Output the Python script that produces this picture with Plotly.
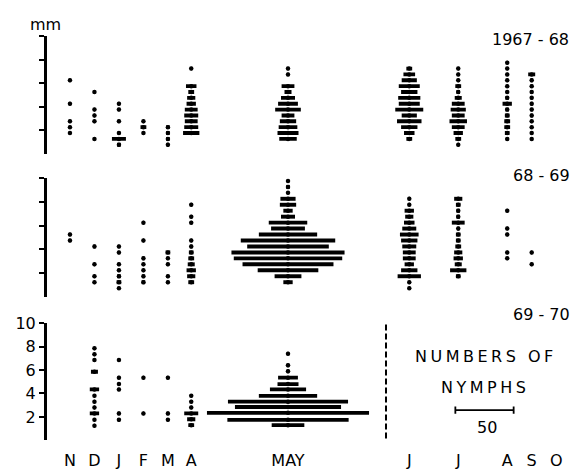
import plotly.graph_objects as go

W, H = 584, 470
PX_PER_NYMPH = 58.3 / 50.0   # scale bar: 50 nymphs

months = ["N", "D", "J", "F", "M", "A", "MAY", "J", "J", "A", "S", "O"]
month_pos = [60, 81, 102, 123, 144, 164, 247, 351, 393, 435, 456, 477]  # in nymph units
season_labels = ["1967 - 68", "68 - 69", "69 - 70"]
y_ticks = [2, 4, 6, 8, 10]
y_ticktext = ["2", "4", "6", "8", "10"]

# column index -> (size class in mm, number of nymphs)
s1967 = {
    0: ([6.25, 4.25, 2.75, 2.25, 1.75], [1, 1, 1, 1, 1]),
    1: ([5.25, 3.75, 3.25, 2.75, 1.25], [1, 1, 1, 1, 1]),
    2: ([4.25, 3.75, 2.75, 1.75, 1.25, 0.75], [1, 1, 1, 2, 12, 3]),
    3: ([2.75, 2.25, 1.75], [1, 5, 1]),
    4: ([2.25, 1.75, 1.25, 0.75], [3, 3, 3, 2]),
    5: ([7.25, 5.75, 5.25, 4.75, 4.25, 3.75, 3.25, 2.75, 2.25, 1.75],
        [1, 9, 5, 7, 8, 11, 12, 11, 12, 14]),
    6: ([7.25, 6.75, 5.75, 5.25, 4.75, 4.25, 3.75, 3.25, 2.75, 2.25, 1.75, 1.25],
        [1, 1, 11, 6, 12, 17, 22, 11, 14, 16, 18, 15]),
    7: ([7.25, 6.75, 6.25, 5.75, 5.25, 4.75, 4.25, 3.75, 3.25, 2.75, 2.25, 1.75, 1.25],
        [5, 10, 13, 18, 14, 19, 18, 24, 13, 21, 14, 9, 5]),
    8: ([7.25, 6.75, 6.25, 5.75, 5.25, 4.75, 4.25, 3.75, 3.25, 2.75, 2.25, 1.75, 1.25, 0.75],
        [1, 1, 1, 5, 3, 6, 11, 13, 11, 15, 11, 8, 5, 1]),
    9: ([7.75, 7.25, 6.75, 6.25, 5.75, 5.25, 4.75, 4.25, 3.75, 3.25, 2.75, 2.25, 1.75, 1.25],
        [1, 1, 1, 1, 1, 1, 3, 8, 3, 4, 5, 5, 4, 2]),
    10: ([6.75, 6.25, 5.75, 5.25, 4.75, 4.25, 3.75, 3.25, 2.75, 2.25, 1.75, 1.25],
         [6, 2, 2, 2, 2, 2, 2, 2, 1, 1, 1, 1]),
}

s1968 = {
    0: ([5.25, 4.75], [1, 1]),
    1: ([4.25, 2.75, 1.75, 1.25], [2, 1, 1, 1]),
    2: ([4.25, 3.75, 2.75, 2.25, 1.75, 1.25, 0.75], [1, 1, 1, 1, 3, 4, 1]),
    3: ([6.25, 4.75, 3.25, 2.75, 2.25, 1.75, 1.25], [1, 1, 2, 1, 1, 2, 3]),
    4: ([3.75, 3.25, 2.75, 1.75, 1.25], [4, 1, 1, 1, 1]),
    5: ([7.75, 6.75, 6.25, 4.75, 4.25, 3.75, 3.25, 2.75, 2.25, 1.75, 1.25],
        [1, 1, 1, 1, 2, 4, 5, 6, 8, 7, 5]),
    6: ([9.75, 9.25, 8.75, 8.25, 7.75, 7.25, 6.75, 6.25, 5.75, 5.25, 4.75, 4.25,
         3.75, 3.25, 2.75, 2.25, 1.75, 1.25],
        [1, 3, 1, 13, 14, 8, 12, 33, 29, 50, 81, 70, 97, 93, 78, 52, 23, 8]),
    7: ([8.25, 7.75, 7.25, 6.75, 6.25, 5.75, 5.25, 4.75, 4.25, 3.75, 3.25, 2.75, 2.25, 1.75, 1.25, 0.75],
        [1, 1, 8, 7, 9, 12, 16, 14, 12, 11, 11, 8, 14, 20, 1, 1]),
    8: ([8.25, 7.75, 7.25, 6.75, 6.25, 5.75, 5.25, 4.75, 4.25, 3.75, 3.25, 2.75, 2.25, 1.75],
        [7, 4, 3, 3, 11, 2, 4, 4, 5, 7, 8, 6, 14, 4]),
    9: ([7.25, 5.75, 5.25, 3.75, 3.25], [1, 1, 1, 1, 1]),
    10: ([3.75, 2.75], [1, 1]),
}

s1969 = {
    1: ([7.85, 7.35, 6.85, 5.85, 4.35, 3.8, 3.3, 2.8, 2.3, 1.75, 1.25],
        [1, 1, 1, 6, 8, 1, 1, 1, 8, 1, 1]),
    2: ([6.85, 5.35, 4.8, 4.35, 2.3, 1.75], [1, 1, 1, 1, 2, 2]),
    3: ([5.35, 2.3], [1, 1]),
    4: ([5.35, 2.3, 1.75], [1, 2, 1]),
    5: ([3.8, 3.3, 2.8, 2.3, 1.8, 1.3], [1, 1, 1, 12, 7, 5]),
    6: ([7.4, 6.4, 5.9, 5.35, 4.8, 4.35, 3.8, 3.3, 2.85, 2.35, 1.75, 1.3],
        [1, 2, 2, 17, 18, 31, 50, 103, 91, 139, 104, 28]),
}

seasons = [s1967, s1968, s1969]
FONT = "DejaVu Sans"


def px_x(px):
    return px / W


def px_y(py):
    return 1 - py / H


# vertical pixel spans (0 mm, 10 mm) for each panel
panel_px = [(148, 28), (295, 173), (441.7, 321.7)]
yaxis_names = ["y", "y2", "y3"]

fig = go.Figure()
for season, yname in zip(seasons, yaxis_names):
    xs, bases, ys, dx, dy = [], [], [], [], []
    for col, (sizes, counts) in season.items():
        c = month_pos[col]
        for s, n in zip(sizes, counts):
            xs.append(n)
            bases.append(c - n / 2.0)
            ys.append(s)
            dx.append(c)
            dy.append(s)
    fig.add_trace(go.Bar(x=xs, base=bases, y=ys, orientation="h", width=0.33,
                         marker=dict(color="black", line=dict(width=0)),
                         xaxis="x", yaxis=yname, showlegend=False, hoverinfo="skip"))
    fig.add_trace(go.Scatter(x=dx, y=dy, mode="markers",
                             marker=dict(color="black", size=4.5, line=dict(width=0)),
                             xaxis="x", yaxis=yname, showlegend=False, hoverinfo="skip"))

layout = dict(
    width=W, height=H,
    margin=dict(l=0, r=0, t=0, b=0),
    paper_bgcolor="white", plot_bgcolor="white",
    barmode="overlay",
    font=dict(family=FONT, size=16, color="black"),
    xaxis=dict(domain=[0, 1], range=[0, W / PX_PER_NYMPH], anchor="y3",
               tickmode="array", tickvals=month_pos, ticktext=months,
               showgrid=False, zeroline=False, showline=False, ticks="",
               ticklabelstandoff=9, tickfont=dict(size=16)),
)
for i, (p0, p10) in enumerate(panel_px):
    key = "yaxis" if i == 0 else f"yaxis{i + 1}"
    layout[key] = dict(
        domain=[px_y(p0), px_y(p10)], range=[0, 10],
        anchor="free", position=px_x(45),
        tickmode="array", tickvals=y_ticks, ticktext=y_ticktext,
        showticklabels=(i == 2), ticks="outside", ticklen=5, tickwidth=2,
        tickcolor="black", showline=True, linecolor="black", linewidth=2.5,
        showgrid=False, zeroline=False, tickfont=dict(size=16),
    )
fig.update_layout(**layout)

# dashed separator in the last season
sep_x = 386 / PX_PER_NYMPH
fig.add_shape(type="line", xref="x", yref="y3", x0=sep_x, x1=sep_x, y0=0.15, y1=10.3,
              line=dict(color="black", width=2, dash="6px,3px"))

# scale bar: 50 nymphs
sb_c = 484.5 / PX_PER_NYMPH
sb_y = 2.58
fig.add_shape(type="line", xref="x", yref="y3", x0=sb_c - 25, x1=sb_c + 25, y0=sb_y, y1=sb_y,
              line=dict(color="black", width=1.8))
for xe in (sb_c - 25, sb_c + 25):
    fig.add_shape(type="line", xref="x", yref="y3", x0=xe, x1=xe, y0=sb_y - 0.3, y1=sb_y + 0.3,
                  line=dict(color="black", width=1.8))

ann = [
    ("mm", 45, 16, "center"),
    (season_labels[0], 571, 31, "right"),
    (season_labels[1], 572, 171, "right"),
    (season_labels[2], 572, 313, "right"),
    ('<span style="letter-spacing:3.5px">NUMBERS OF</span>', 486, 356, "center"),
    ('<span style="letter-spacing:3.5px">NYMPHS</span>', 485, 388, "center"),
    ("50", 487, 429, "center"),
]
for text, x, y, xa in ann:
    fig.add_annotation(text=text, xref="paper", yref="paper", x=px_x(x), y=px_y(y),
                       xanchor=xa, yanchor="middle", showarrow=False,
                       font=dict(family=FONT, size=16, color="black"))

fig.write_html("out.html", config={"displayModeBar": False, "staticPlot": True},
               post_script="document.body.style.margin='0';document.body.style.overflow='hidden';")
